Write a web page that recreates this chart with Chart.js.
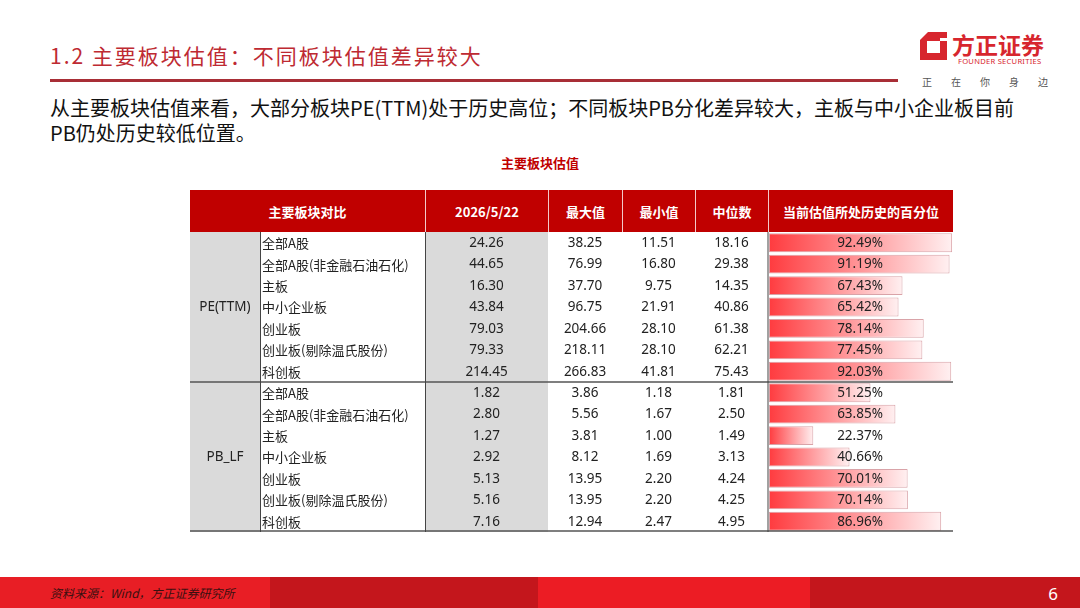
<!DOCTYPE html>
<html>
<head>
<meta charset="utf-8">
<script src="https://cdn.jsdelivr.net/npm/chart.js@4.4.1/dist/chart.umd.min.js"></script>
<style>
    html, body { margin: 0; padding: 0; background: #fff; }
    body { width: 1080px; height: 608px; position: relative; overflow: hidden; font-family: "Noto Sans CJK SC", "Noto Sans", sans-serif; }
    .title { position: absolute; left: 50px; top: 40px; font-size: 21px; letter-spacing: 2px; color: #BE2A32; white-space: nowrap; }
    .rule { position: absolute; left: 50px; top: 79px; width: 848px; height: 3px; background: #A82E36; }
    .intro { position: absolute; left: 50px; top: 95px; width: 1000px; font-size: 20px; line-height: 25px; color: #111; font-weight: 400; white-space: nowrap; }
    .caption { position: absolute; left: 0; width: 1080px; top: 153px; text-align: center; font-size: 13px; font-weight: 700; color: #C00000; }
    .head { position: absolute; left: 190px; top: 190px; width: 763px; height: 42px; background: #C00000; display: flex; }
    .head div { color: #fff; font-weight: 700; font-size: 13px; display: flex; align-items: center; justify-content: center; box-sizing: border-box; border-left: 1.5px solid #f3c9c9; }
    .head div:first-child { border-left: none; }
    #wrap { position: absolute; left: 190px; top: 232px; width: 777px; height: 300px; }
    .logo { position: absolute; left: 920px; top: 32px; width: 140px; height: 60px; }
    .footer { position: absolute; left: 0; top: 577px; width: 1080px; height: 31px; display: flex; }
    .footer div { height: 31px; }
    .src { position: absolute; left: 50px; top: 584px; font-size: 12px; font-style: italic; color: #3a1010; }
    .page { position: absolute; right: 22px; top: 582px; font-size: 17px; color: #fff; font-family: "Noto Sans", sans-serif; }
</style>
</head>
<body>
<div class="title">1.2 主要板块估值：不同板块估值差异较大</div>
<div class="rule"></div>
<svg class="logo" viewBox="0 0 140 60">
    <path fill-rule="evenodd" fill="#D7262E" d="M8,0 L27,0 L27,28 L0,28 L0,8 Z M7,9 L7,21 L20,21 L20,9 Z"/>
    <rect x="20" y="6" width="8" height="3" fill="#fff"/>
    <text x="32" y="22" font-size="23" font-weight="700" fill="#D7262E" font-family="Noto Sans CJK SC">方正证券</text>
    <text x="38" y="32" font-size="7.6" fill="#D7262E" font-family="Noto Sans" letter-spacing="0.25">FOUNDER SECURITIES</text>
    <text x="2" y="54" font-size="10" fill="#555" font-family="Noto Sans CJK SC" letter-spacing="19">正在你身边</text>
</svg>
<div class="intro">从主要板块估值来看，大部分板块PE(TTM)处于历史高位；不同板块PB分化差异较大，主板与中小企业板目前<br>PB仍处历史较低位置。</div>
<div class="caption">主要板块估值</div>
<div class="head">
    <div style="width:235px">主要板块对比</div>
    <div style="width:123px">2026/5/22</div>
    <div style="width:74px">最大值</div>
    <div style="width:73px">最小值</div>
    <div style="width:73px">中位数</div>
    <div style="width:185px">当前估值所处历史的百分位</div>
</div>
<div id="wrap"><canvas id="tableChart"></canvas></div>
<div class="footer">
    <div style="width:270px;background:#E81E25"></div>
    <div style="width:268px;background:#C4161C"></div>
    <div style="width:272px;background:#EC1C24"></div>
    <div style="width:270px;background:#C4161C"></div>
</div>
<div class="src">资料来源：Wind，方正证券研究所</div>
<div class="page">6</div>

<script>
    const groups = ['PE(TTM)', 'PB_LF'];
    const boards = ['全部A股', '全部A股(非金融石油石化)', '主板', '中小企业板', '创业板', '创业板(剔除温氏股份)', '科创板'];

    const peNow = [24.26, 44.65, 16.30, 43.84, 79.03, 79.33, 214.45];
    const peMax = [38.25, 76.99, 37.70, 96.75, 204.66, 218.11, 266.83];
    const peMin = [11.51, 16.80, 9.75, 21.91, 28.10, 28.10, 41.81];
    const peMed = [18.16, 29.38, 14.35, 40.86, 61.38, 62.21, 75.43];
    const pePct = [92.49, 91.19, 67.43, 65.42, 78.14, 77.45, 92.03];

    const pbNow = [1.82, 2.80, 1.27, 2.92, 5.13, 5.16, 7.16];
    const pbMax = [3.86, 5.56, 3.81, 8.12, 13.95, 13.95, 12.94];
    const pbMin = [1.18, 1.67, 1.00, 1.69, 2.20, 2.20, 2.47];
    const pbMed = [1.81, 2.50, 1.49, 3.13, 4.24, 4.25, 4.95];
    const pbPct = [51.25, 63.85, 22.37, 40.66, 70.01, 70.14, 86.96];

    const rowKeys = [...boards.map((b, i) => 'PE' + i), ...boards.map((b, i) => 'PB' + i)];
    const rowNames = [...boards, ...boards];
    const nowCol = [...peNow, ...pbNow];
    const maxCol = [...peMax, ...pbMax];
    const minCol = [...peMin, ...pbMin];
    const medCol = [...peMed, ...pbMed];
    const pctCol = [...pePct, ...pbPct];

    // column geometry, relative to the canvas left edge (page x 190)
    const COL = { groupMid: 35, nameX: 72, now: 296.5, max: 395, min: 468.5, med: 541.5, pct: 670, tableRight: 763 };

    const tablePlugin = {
        id: 'tablePlugin',
        beforeDatasetsDraw(chart) {
            const { ctx, chartArea } = chart;
            ctx.save();
            ctx.fillStyle = '#DADADA';
            ctx.fillRect(0, chartArea.top, 70, chartArea.bottom - chartArea.top);
            ctx.fillRect(235, chartArea.top, 123, chartArea.bottom - chartArea.top);
            ctx.restore();
        },
        afterDatasetsDraw(chart) {
            const { ctx, chartArea, scales: { y } } = chart;
            const half = (y.getPixelForValue(1) - y.getPixelForValue(0)) / 2;
            ctx.save();
            ctx.fillStyle = '#222';
            ctx.textBaseline = 'middle';
            rowKeys.forEach((k, i) => {
                const py = y.getPixelForValue(i) + 0.5;
                ctx.font = '13px "Noto Sans CJK SC"';
                ctx.textAlign = 'left';
                ctx.fillText(rowNames[i], COL.nameX, py);
                ctx.font = '13.5px "Noto Sans", "Open Sans"';
                ctx.textAlign = 'center';
                ctx.fillText(nowCol[i].toFixed(2), COL.now, py);
                ctx.fillText(maxCol[i].toFixed(2), COL.max, py);
                ctx.fillText(minCol[i].toFixed(2), COL.min, py);
                ctx.fillText(medCol[i].toFixed(2), COL.med, py);
                ctx.fillText(pctCol[i].toFixed(2) + '%', COL.pct, py);
            });
            ctx.font = '13.5px "Noto Sans", "Open Sans"';
            groups.forEach((g, gi) => {
                const mid = y.getPixelForValue(gi * 7 + 3);
                ctx.fillText(g, COL.groupMid, mid);
            });

            // grid lines
            const split = y.getPixelForValue(6) + half;
            ctx.strokeStyle = '#555';
            ctx.lineWidth = 1.5;
            ctx.beginPath();
            ctx.moveTo(0, split); ctx.lineTo(COL.tableRight, split);
            ctx.moveTo(0, chartArea.bottom - 1); ctx.lineTo(COL.tableRight, chartArea.bottom - 1);
            ctx.stroke();
            ctx.lineWidth = 1;
            ctx.strokeStyle = '#444';
            ctx.beginPath();
            [70.5, 235.5, 578].forEach(x => { ctx.moveTo(x, chartArea.top); ctx.lineTo(x, chartArea.bottom); });
            ctx.stroke();
            ctx.restore();
        }
    };

    new Chart(document.getElementById('tableChart'), {
        type: 'bar',
        data: {
            labels: rowKeys,
            datasets: [{
                data: pctCol,
                backgroundColor: (c) => {
                    const { ctx, chartArea, scales } = c.chart;
                    if (!chartArea || c.raw === undefined) return '#FF5A5A';
                    const end = scales.x.getPixelForValue(c.raw);
                    const g = ctx.createLinearGradient(chartArea.left, 0, end, 0);
                    g.addColorStop(0, '#FF3B3F');
                    g.addColorStop(1, '#FFF0F1');
                    return g;
                },
                borderColor: '#D9A3A8', borderWidth: 1, borderSkipped: false,
                barPercentage: 0.88, categoryPercentage: 1
            }]
        },
        options: {
            indexAxis: 'y',
            responsive: true, maintainAspectRatio: false, animation: false,
            layout: { padding: { left: 579, right: 0, top: 0, bottom: 0 } },
            plugins: { legend: { display: false }, tooltip: { enabled: false } },
            scales: {
                x: { display: false, min: 0, max: 100 },
                y: { display: false }
            }
        },
        plugins: [tablePlugin]
    });
</script>
</body>
</html>
